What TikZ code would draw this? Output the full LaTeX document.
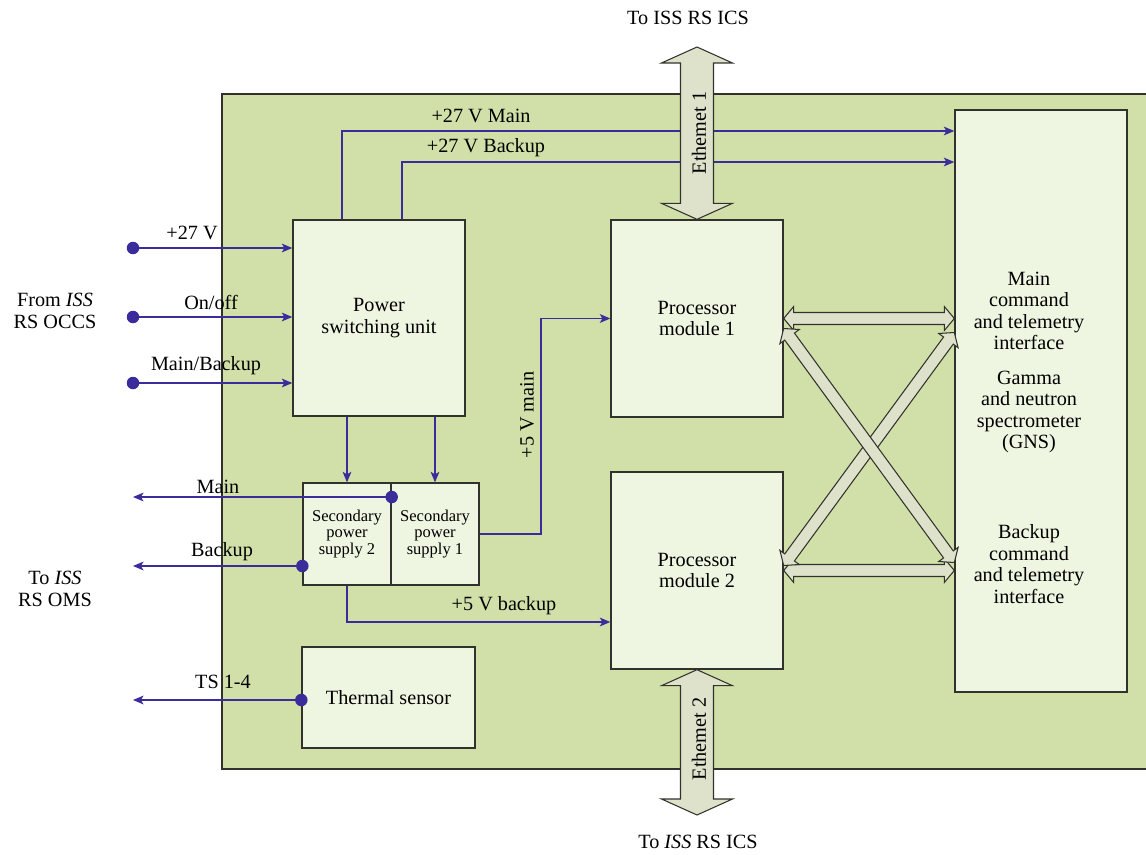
\documentclass[tikz,border=0pt]{standalone}
\usepackage{fontspec}
\setmainfont{Liberation Serif}
\usepackage{tikz}
\usetikzlibrary{positioning, arrows.meta, calc}
\definecolor{panel}{RGB}{208,224,168}
\definecolor{boxfill}{RGB}{238,245,225}
\definecolor{busfill}{RGB}{222,226,203}
\definecolor{wire}{RGB}{58,45,155}
\definecolor{edge}{RGB}{50,50,45}
\newcommand{\busarrow}[5]{%
  \coordinate (ba-s) at #1; \coordinate (ba-e) at #2;
  \coordinate (ba-a) at ($(ba-s)!#5!(ba-e)$);
  \coordinate (ba-b) at ($(ba-e)!#5!(ba-s)$);
  \draw[bus] (ba-s) -- ($(ba-a)!#4!90:(ba-e)$) -- ($(ba-a)!#3!90:(ba-e)$)
    -- ($(ba-b)!#3!-90:(ba-s)$) -- ($(ba-b)!#4!-90:(ba-s)$) -- (ba-e)
    -- ($(ba-b)!#4!90:(ba-s)$) -- ($(ba-b)!#3!90:(ba-s)$)
    -- ($(ba-a)!#3!-90:(ba-e)$) -- ($(ba-a)!#4!-90:(ba-e)$) -- cycle;}

\begin{document}
\begin{tikzpicture}[x=0.02cm, y=-0.02cm,
  blk/.style={draw=edge, line width=0.8pt, fill=boxfill, align=center, inner sep=0pt, font=\fontsize{11.5}{12.2}\selectfont},
  psbox/.style={blk, minimum width=1.76cm, minimum height=2.04cm, font=\fontsize{9.4}{9.6}\selectfont},
  sig/.style={draw=wire, line width=0.7pt},
  wirearrow/.style={sig, -{Stealth[length=6pt, width=5pt, inset=1.5pt]}},
  bus/.style={draw=edge, line width=0.6pt, fill=busfill, line join=miter},
  dot/.style={circle, fill=wire, inner sep=0pt, minimum size=0.25cm},
  lbl/.style={font=\fontsize{11.5}{12.2}\selectfont, inner sep=1pt, align=center}]
\useasboundingbox (0,0) rectangle (1146,855);
\fill[panel, draw=edge, line width=0.8pt] (222,94) rectangle (1156,769);

\node[blk, minimum width=3.44cm, minimum height=3.92cm] (psu) at (379,318) {Power\\switching unit};
\node[blk, minimum width=3.44cm, minimum height=3.94cm] (pm1) at (697,318.5) {Processor\\module 1};
\node[blk, minimum width=3.44cm, minimum height=3.94cm] (pm2) at (697,570.5) {Processor\\module 2};
\node[blk, minimum width=3.44cm, minimum height=11.64cm] (gns) at (1041,401) {};
\node[lbl] (gnsmain) at (1029,311) {Main\\command\\and telemetry\\interface};
\node[lbl] (gnsname) at (1029,412) {Gamma\\and neutron\\spectrometer\\(GNS)};
\node[lbl] (gnsbkp) at (1029,564) {Backup\\command\\and telemetry\\interface};
\node[psbox] (sps2) at (347,534) {Secondary\\power\\supply 2};
\node[psbox] (sps1) at (435,534) {Secondary\\power\\supply 1};
\node[blk, minimum width=3.46cm, minimum height=2.02cm] (ts) at (388.5,697.5) {Thermal sensor};

\coordinate (in1) at (133,248);
\coordinate (in2) at (133,317);
\coordinate (in3) at (133,383);
\draw[wirearrow] (in1) -- (psu.west |- in1);
\draw[wirearrow] (in2) -- (psu.west |- in2);
\draw[wirearrow] (in3) -- (psu.west |- in3);
\node[dot] (d1) at (in1) {};
\node[dot] (d2) at (in2) {};
\node[dot] (d3) at (in3) {};
\node[lbl] (l27) at (192,233) {+27 V};
\node[lbl] (lonoff) at (211,302) {On/off};
\node[lbl] (lmb) at (206,366) {Main/Backup};
\node[lbl] (occs) at (55,311) {From \textit{ISS}\\RS OCCS};

\coordinate (tapM) at (342,131);
\coordinate (tapB) at (402,162);
\draw[wirearrow] (psu.north -| tapM) |- (gns.west |- tapM);
\draw[wirearrow] (psu.north -| tapB) |- (gns.west |- tapB);
\node[lbl] (l27m) at (481,116) {+27 V Main};
\node[lbl] (l27b) at (486,148) {+27 V Backup};

\draw[wirearrow] (psu.south -| sps2.north) -- (sps2.north);
\draw[wirearrow] (psu.south -| sps1.north) -- (sps1.north);

\coordinate (outM) at (133,497);
\coordinate (outB) at (133,566);
\coordinate (outT) at (133,700);
\draw[wirearrow] (sps2.east |- outM) -- (outM);
\draw[wirearrow] (sps2.west |- outB) -- (outB);
\draw[wirearrow] (ts.west |- outT) -- (outT);
\node[dot] (d4) at (sps2.east |- outM) {};
\node[dot] (d5) at (sps2.west |- outB) {};
\node[dot] (d6) at (ts.west |- outT) {};
\node[lbl] (lmain) at (218,487) {Main};
\node[lbl] (lbkp) at (222,552) {Backup};
\node[lbl] (lts) at (223,682) {TS 1-4};
\node[lbl] (oms) at (55,589) {To \textit{ISS}\\RS OMS};

\coordinate (bendM) at (541,318.5);
\coordinate (bendB) at (345,622);
\draw[wirearrow] (sps1.east) -| (bendM) -- (pm1.west);
\draw[wirearrow] (sps2.south) |- (pm2.west |- bendB);
\node[lbl, rotate=90] (l5m) at (527,415) {+5 V main};
\node[lbl] (l5b) at (504,606) {+5 V backup};

\coordinate (eth1) at (697,47);
\coordinate (eth2) at (697,815);
\busarrow{(pm1.north)}{(eth1)}{0.33cm}{0.71cm}{0.32cm}
\busarrow{(pm2.south)}{(eth2)}{0.33cm}{0.71cm}{0.32cm}
\node[lbl, rotate=90] (le1) at (699,133) {Ethemet 1};
\node[lbl, rotate=90] (le2) at (699,739) {Ethemet 2};
\node[lbl] (icstop) at (688,18) {To ISS RS ICS};
\node[lbl] (icsbot) at (698,842) {To \textit{ISS} RS ICS};

\busarrow{(pm1.east)}{(gns.west |- pm1.east)}{0.12cm}{0.24cm}{0.2cm}
\busarrow{(pm2.east)}{(gns.west |- pm2.east)}{0.12cm}{0.24cm}{0.2cm}
\busarrow{($(gns.west |- pm1.east)+(0,14)$)}{($(pm2.east)+(0,-5)$)}{0.12cm}{0.24cm}{0.2cm}
\busarrow{($(pm1.east)+(0,10)$)}{($(gns.west |- pm2.east)+(0,-8)$)}{0.12cm}{0.24cm}{0.2cm}
\end{tikzpicture}
\end{document}
